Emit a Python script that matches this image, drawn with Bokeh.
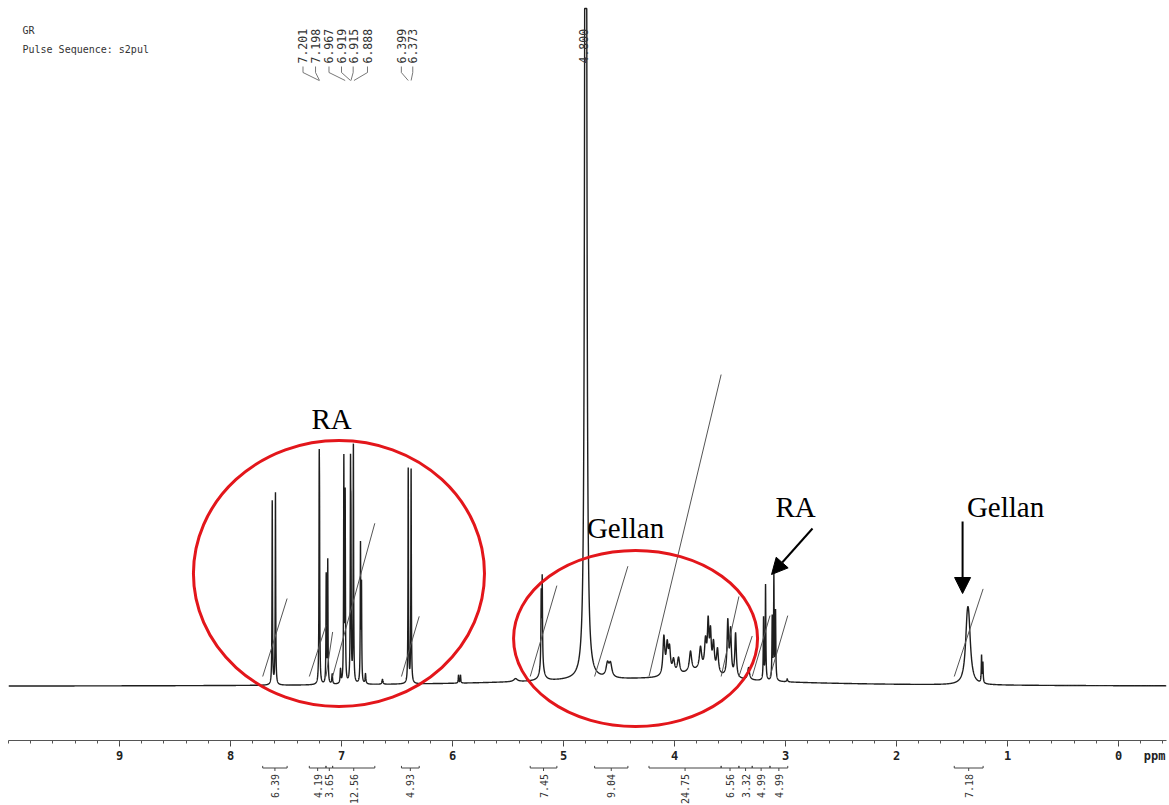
import numpy as np
from bokeh.plotting import figure
from bokeh.layouts import column
from bokeh.models import (Range1d, FixedTicker, Arrow, NormalHead)
from bokeh.core.properties import value
from bokeh.embed import file_html
from bokeh.resources import INLINE

# ---------------- data ----------------
# peak centres (ppm), heights (plot units above baseline), half widths (ppm)
peak_ppm = [7.624, 7.595, 7.201, 7.198, 7.138, 7.124, 6.979, 6.967, 6.919, 6.915,
            6.893, 6.829, 6.820, 7.084, 7.009, 6.784, 6.631, 5.946, 5.928,
            6.399, 6.373,
            5.201, 5.192, 5.195, 5.432, 4.800, 4.604, 4.577,
            4.096, 4.066, 4.045, 4.009, 3.964, 3.856, 3.766, 3.721, 3.697, 3.676,
            3.649, 3.613, 3.520, 3.495, 3.450, 3.333, 3.78,
            3.198, 3.180, 3.120, 3.105, 3.090, 2.985,
            1.363, 1.349, 1.234, 1.222,
            4.30]
peak_height = [184, 192, 180, 125, 108, 123, 222, 187, 190, 130,
               238, 137, 95, 10, 14, 10, 5, 8, 8,
               215, 215,
               70, 85, 15, 3, 3000, 13, 13,
               38, 28, 24, 14, 16, 20, 22, 28, 46, 36,
               28, 24, 54, 45, 44, 12, 9,
               62, 95, 62, 103, 68, 3,
               46, 42, 27, 20,
               7]
peak_hwhm = [0.0025, 0.0025, 0.0025, 0.0025, 0.0025, 0.0025, 0.0025, 0.0025, 0.0025, 0.0025,
             0.0025, 0.0025, 0.0025, 0.004, 0.004, 0.004, 0.005, 0.003, 0.003,
             0.0025, 0.0025,
             0.003, 0.003, 0.02, 0.02, 0.00516, 0.015, 0.015,
             0.01, 0.01, 0.01, 0.012, 0.012, 0.012, 0.012, 0.01, 0.008, 0.008,
             0.01, 0.01, 0.008, 0.008, 0.008, 0.01, 0.18,
             0.003, 0.003, 0.003, 0.003, 0.003, 0.005,
             0.02, 0.02, 0.003, 0.003,
             1.5]

# labelled peaks (ppm) shown at the top
peak_labels = ["7.201", "7.198", "6.967", "6.919", "6.915", "6.888", "6.399", "6.373"]
water_label = "4.800"

# integral regions: start ppm, end ppm, value
int_start = [7.71, 7.29, 7.14, 7.08, 6.46, 5.30, 4.72, 4.23, 3.58, 3.42, 3.30, 3.14, 1.48]
int_end = [7.49, 7.14, 7.08, 6.70, 6.30, 5.06, 4.42, 3.58, 3.42, 3.30, 3.14, 2.98, 1.22]
int_value = [6.39, 4.19, 3.65, 12.56, 4.93, 7.45, 9.04, 24.75, 6.56, 3.32, 4.99, 4.99, 7.18]

axis_ticks = [0, 1, 2, 3, 4, 5, 6, 7, 8, 9]
axis_unit = "ppm"

# ---------------- layout constants ----------------
X0, X1 = 10.0, -0.432
Y0, Y1 = -54, 686
CLIP = 678                      # plotter ceiling
INT_BASE, INT_SCALE = 10, 12.2  # integral trace start and scale
label_pos = [7.347, 7.234, 7.113, 7.000, 6.895, 6.766, 6.461, 6.358]
mono = "DejaVu Sans Mono"
NB = "\u00a0"

ppm = np.linspace(X1, X0, 20001)
spec = np.zeros_like(ppm)
for c, h, w in zip(peak_ppm, peak_height, peak_hwhm):
    spec += h * w * w / ((ppm - c) ** 2 + w * w)
spec = np.minimum(spec, CLIP)

xr = Range1d(X0, X1)
p = figure(frame_width=1158, frame_height=740, x_range=xr, y_range=Range1d(Y0, Y1),
           output_backend="svg", toolbar_location=None, y_axis_location=None,
           min_border_left=8, min_border_right=3, min_border_top=0, min_border_bottom=0)
p.outline_line_color = None
p.xgrid.visible = False
p.ygrid.visible = False
p.background_fill_color = "white"
p.border_fill_color = "white"

ax = p.xaxis[0]
ax.ticker = FixedTicker(ticks=axis_ticks, minor_ticks=[round(-0.4 + 0.2 * i, 1) for i in range(53)])
ax.major_tick_out = 6
ax.major_tick_in = 0
ax.minor_tick_out = 3
ax.minor_tick_in = 0
ax.axis_line_color = "#555555"
ax.major_tick_line_color = "#444444"
ax.minor_tick_line_color = "#555555"
ax.major_label_text_font = mono
ax.major_label_text_font_size = "12px"
ax.major_label_text_font_style = "bold"
ax.major_label_text_color = "#222222"
ax.major_label_standoff = 2
ax.major_label_overrides = {0: NB * 6 + "0" + NB * 3 + axis_unit}

# spectrum
p.line(ppm, spec, line_color="#1e1e1e", line_width=1.4)

# integral traces
xs = [[s, e] for s, e in zip(int_start, int_end)]
ys = [[INT_BASE, INT_BASE + INT_SCALE * v] for v in int_value]
p.multi_line(xs, ys, line_color="#555555", line_width=1)

# peak labels + connectors
peak_vals = [float(t) for t in peak_labels]
p.text(x=label_pos, y=[623] * len(label_pos), text=peak_labels, angle=np.pi / 2,
       text_align="left", text_baseline="middle", text_font=value(mono),
       text_font_size="11.5px", text_color="#333333")
cx = [[lp, lp, pv] for lp, pv in zip(label_pos, peak_vals)]
cy = [[620, 614, 606] for _ in label_pos]
p.multi_line(cx, cy, line_color="#555555", line_width=0.8)
p.text(x=[4.82], y=[623], text=[water_label], angle=np.pi / 2, text_align="left",
       text_baseline="middle", text_font=value(mono), text_font_size="11.5px", text_color="#333333")

# header texts
p.text(x=[9.874, 9.874], y=[656, 637], text=["GR", "Pulse Sequence: s2pul"],
       text_align="left", text_baseline="middle", text_font=value(mono),
       text_font_size="10px", text_color="#333333")

# red ellipses
p.ellipse(x=[7.023, 4.351], y=[113, 48], width=[2.622, 2.198], height=[266, 176],
          fill_color=None, line_color="#e3161b", line_width=3)

# annotation words
p.text(x=[7.09, 4.441, 2.91, 1.018], y=[268, 159, 180, 180],
       text=["RA", "Gellan", "RA", "Gellan"], text_align="center", text_baseline="middle",
       text_font=value("Liberation Serif"), text_font_size="29px", text_color="black")

# arrows
p.add_layout(Arrow(end=NormalHead(size=16, fill_color="black", line_color="black"),
                   x_start=2.757, y_start=158, x_end=3.126, y_end=112,
                   line_color="black", line_width=2))
p.add_layout(Arrow(end=NormalHead(size=16, fill_color="black", line_color="black"),
                   x_start=1.405, y_start=165, x_end=1.405, y_end=93,
                   line_color="black", line_width=2))

# ---------------- integral brackets and values (strip under the axis) ----------------
q = figure(frame_width=1158, frame_height=42, x_range=xr, y_range=Range1d(42, 0),
           output_backend="svg", toolbar_location=None, x_axis_location=None,
           y_axis_location=None, min_border_left=8, min_border_right=3,
           min_border_top=0, min_border_bottom=0)
q.outline_line_color = None
q.xgrid.visible = False
q.ygrid.visible = False
q.background_fill_color = "white"
q.border_fill_color = "white"

n = len(int_value)
xc = [(s + e) / 2 for s, e in zip(int_start, int_end)]
q.segment(x0=int_start, y0=[2.5] * n, x1=int_end, y1=[2.5] * n, line_color="#444444", line_width=1)
q.segment(x0=int_start + int_end, y0=[2.5] * (2 * n), x1=int_start + int_end, y1=[0.3] * (2 * n),
          line_color="#444444", line_width=1)
q.segment(x0=xc, y0=[2.5] * n, x1=xc, y1=[5.5] * n, line_color="#444444", line_width=1)
q.text(x=xc, y=[8.5] * n, text=["%.2f" % v for v in int_value], angle=np.pi / 2,
       text_align="right", text_baseline="middle", text_font=value(mono),
       text_font_size="10px", text_color="#333333")

open("out.html", "w").write(file_html(column(p, q), INLINE))
